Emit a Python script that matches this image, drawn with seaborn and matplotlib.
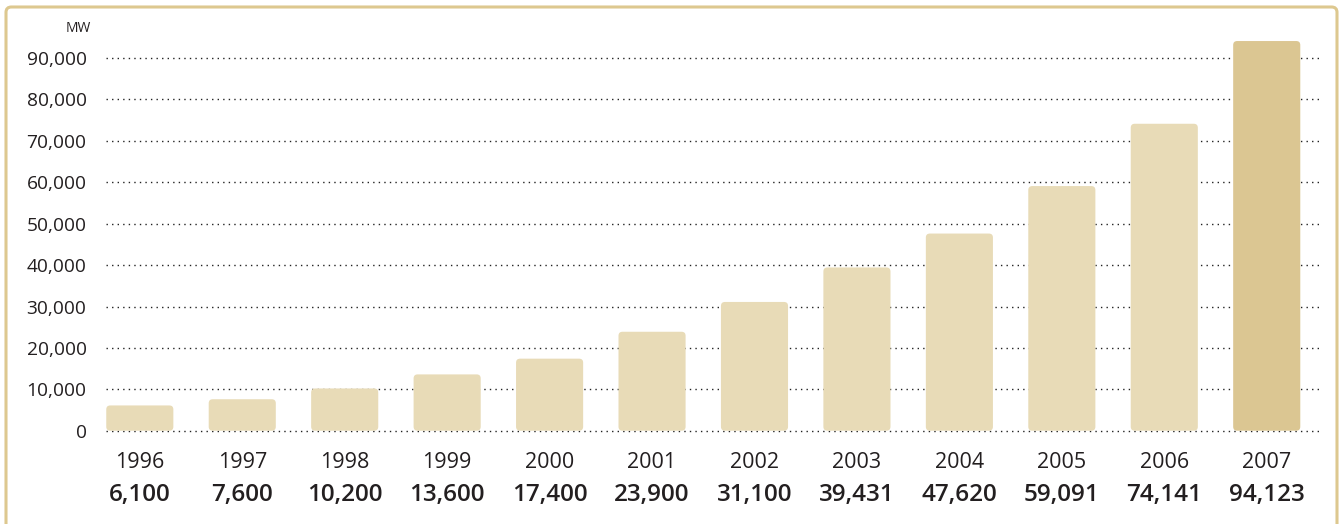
import matplotlib
matplotlib.use("Agg")
import matplotlib.pyplot as plt
import seaborn as sns
import pandas as pd
from matplotlib.patches import FancyBboxPatch
from matplotlib.transforms import blended_transform_factory

years = ["1996", "1997", "1998", "1999", "2000", "2001", "2002", "2003", "2004", "2005", "2006", "2007"]
capacity_mw = [6100, 7600, 10200, 13600, 17400, 23900, 31100, 39431, 47620, 59091, 74141, 94123]
value_labels = ["6,100", "7,600", "10,200", "13,600", "17,400", "23,900", "31,100",
                "39,431", "47,620", "59,091", "74,141", "94,123"]
y_ticks = [0, 10000, 20000, 30000, 40000, 50000, 60000, 70000, 80000, 90000]
y_unit = "MW"

light = "#e8dbb7"
dark = "#dbc692"
frame_col = "#ddc88f"
text_col = "#231f20"

sns.set_theme(style="white")
plt.rcParams["font.family"] = ["Open Sans", "DejaVu Sans"]

df = pd.DataFrame({"year": years, "mw": capacity_mw})
palette = [light] * (len(years) - 1) + [dark]

W, H = 1343, 524
fig = plt.figure(figsize=(W / 100, H / 100), dpi=100)
ax_left, ax_right = 106, 1320
ax_zero, ax_top = 430.7, 37.4
ax = fig.add_axes([ax_left / W, (H - ax_zero) / H, (ax_right - ax_left) / W, (ax_zero - ax_top) / H])

sns.barplot(data=df, x="year", y="mw", hue="year", palette=palette, legend=False,
            width=0.655, ax=ax, zorder=3, saturation=1)

ax.set_xlim(-0.33, 11.52)
ax.set_ylim(0, 95000)

# rounded bar corners
px_per_x = (ax_right - ax_left) / (11.52 + 0.33)
px_per_y = (ax_zero - ax_top) / 95000
r_px = 4
rx = r_px / px_per_x
ry = r_px / px_per_y
for p in list(ax.patches):
    x, y = p.get_x(), p.get_y()
    w, h = p.get_width(), p.get_height()
    fc = p.get_facecolor()
    p.remove()
    fb = FancyBboxPatch((x, y), w, h,
                        boxstyle=f"round,pad=0,rounding_size={rx}",
                        mutation_aspect=ry / rx, facecolor=fc, edgecolor="none", zorder=3)
    ax.add_patch(fb)

# dotted gridlines
for t in y_ticks:
    ax.axhline(t, color="#222222", linewidth=1.0, linestyle=(0, (1, 3)), zorder=1, clip_on=False)

for s in ax.spines.values():
    s.set_visible(False)

ax.set_yticks(y_ticks)
ax.set_yticklabels([f"{v:,}" for v in y_ticks], fontsize=13.8, color=text_col)
ax.tick_params(axis="y", length=0, pad=14)
ax.set_xticks(range(len(years)))
ax.set_xticklabels(years, fontsize=15.5, color=text_col)
ax.tick_params(axis="x", length=0, pad=15)
ax.set_xlabel("")
ax.set_ylabel("")

trans = blended_transform_factory(ax.transData, fig.transFigure)
for i, lab in enumerate(value_labels):
    ax.text(i, (H - 495) / H, lab, transform=trans, ha="center", va="center",
            fontsize=17.5, fontweight="semibold", color=text_col)

fig.text(91 / W, (H - 29) / H, y_unit, ha="right", va="center", fontsize=10, color=text_col)

# frame
frame = FancyBboxPatch((6 / W, -0.2), (1337 - 6) / W, 1.2 - 7 / H,
                       boxstyle="round,pad=0,rounding_size=0.004",
                       mutation_aspect=W / H,
                       transform=fig.transFigure, facecolor="none",
                       edgecolor=frame_col, linewidth=2.2, clip_on=False)
fig.patches.append(frame)

fig.savefig("out.png", dpi=100)
